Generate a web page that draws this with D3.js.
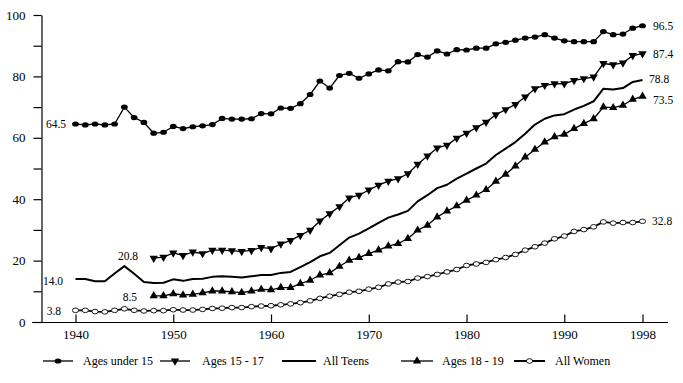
<!DOCTYPE html>
<html>
<head>
<meta charset="utf-8">
<script src="https://cdn.jsdelivr.net/npm/d3@7"></script>
<style>
  html, body { margin: 0; padding: 0; background: #fff; }
  svg { display: block; }
</style>
</head>
<body>
<svg id="chart" width="683" height="383"></svg>
<script>
// ---------- DATA ----------
const years = [1940,1941,1942,1943,1944,1945,1946,1947,1948,1949,
  1950,1951,1952,1953,1954,1955,1956,1957,1958,1959,
  1960,1961,1962,1963,1964,1965,1966,1967,1968,1969,
  1970,1971,1972,1973,1974,1975,1976,1977,1978,1979,
  1980,1981,1982,1983,1984,1985,1986,1987,1988,1989,
  1990,1991,1992,1993,1994,1995,1996,1997,1998];
const yearsFrom1948 = years.slice(8);

const agesUnder15 = [64.5,64.2,64.5,64.2,64.5,70.0,66.6,65.0,61.5,61.8,
  63.7,63.0,63.6,63.9,64.3,66.3,66.1,66.1,66.2,67.9,
  67.8,69.7,69.6,71.1,74.1,78.5,76.2,80.3,81.0,79.4,
  80.8,82.1,81.8,84.8,84.7,87.1,86.3,88.3,87.3,88.7,
  88.6,89.2,89.2,90.6,91.1,91.8,92.5,92.8,93.6,92.5,
  91.6,91.3,91.3,91.3,94.6,93.6,93.8,95.7,96.5];

const ages15to17 = [20.8,21.1,
  22.5,21.7,22.8,22.3,23.4,23.4,23.2,23.0,23.3,24.3,
  23.9,25.4,26.6,28.2,29.9,32.9,35.3,37.6,40.4,41.3,
  43.0,44.6,45.9,46.7,48.3,51.4,54.1,56.7,57.6,59.9,
  61.5,63.3,65.1,67.5,69.2,70.9,73.3,76.0,77.1,77.6,
  77.6,78.7,79.3,79.8,84.2,83.8,84.4,86.8,87.4];

const allTeens = [14.0,14.0,13.3,13.3,15.8,18.2,15.7,13.0,12.7,12.8,
  13.9,13.4,14.0,14.1,14.7,14.9,14.7,14.5,14.9,15.3,
  15.3,16.0,16.3,17.9,19.5,21.4,22.5,25.0,27.5,28.8,
  30.5,32.3,34.0,35.0,36.2,39.3,41.3,43.6,44.7,46.7,
  48.3,50.0,51.6,54.4,56.5,58.6,61.3,64.3,66.2,67.3,
  67.7,69.2,70.4,71.9,76.0,75.7,76.2,78.2,78.8];

const ages18to19 = [8.5,8.5,
  9.2,8.8,9.0,9.5,10.1,10.1,9.8,9.6,10.1,10.6,
  10.5,11.2,11.2,12.5,13.6,15.3,16.0,18.1,20.1,21.0,
  22.3,23.4,24.7,25.5,27.2,29.9,31.5,34.2,36.1,37.8,
  39.6,41.3,43.1,45.8,48.1,50.8,53.7,56.2,58.6,60.3,
  61.1,63.0,64.6,66.2,70.0,69.8,70.6,72.5,73.5];

const allWomen = [3.8,3.8,3.4,3.3,3.8,4.3,3.8,3.6,3.7,3.7,
  4.0,3.9,3.9,4.1,4.4,4.5,4.7,4.7,5.0,5.2,
  5.3,5.6,5.9,6.3,6.9,7.7,8.4,9.0,9.7,10.0,
  10.7,11.3,12.4,13.0,13.2,14.3,14.8,15.5,16.3,17.1,
  18.4,18.9,19.4,20.3,21.0,22.0,23.4,24.5,25.7,27.1,
  28.0,29.5,30.1,31.0,32.6,32.2,32.4,32.4,32.8];

const xTickValues = [1940,1950,1960,1970,1980,1990,1998];
const yTickValues = [0,10,20,30,40,50,60,70,80,90,100];
const yLabelValues = [0,20,40,60,80,100];

const seriesNames = ["Ages under 15","Ages 15 - 17","All Teens","Ages 18 - 19","All Women"];
const seriesMarkers = ["dot","down","none","up","open"];

const FONT = "'Liberation Serif', 'Times New Roman', Times, serif";

// ---------- SCALES ----------
const svg = d3.select("#chart");
const x = d3.scaleLinear().domain([1940,1998]).range([75.5,642.5]);
const y = d3.scaleLinear().domain([0,100]).range([322,15]);

// ---------- AXES ----------
const yAxis = d3.axisLeft(y).tickValues(yTickValues).tickSize(8).tickSizeOuter(0)
  .tickPadding(8)
  .tickFormat(d => yLabelValues.includes(d) ? d : "");
const gy = svg.append("g").attr("transform","translate(41.5,0)").call(yAxis);
gy.attr("font-family", FONT);
gy.selectAll("text").style("font-family", FONT).style("font-size","13px").attr("fill","#000");
gy.selectAll("line,path").attr("stroke","#000").attr("stroke-width",1.2);

svg.append("line").attr("x1",32).attr("x2",668).attr("y1",322.5).attr("y2",322.5)
  .attr("stroke","#000").attr("stroke-width",1.2);
const xAxis = d3.axisBottom(x).tickValues(xTickValues).tickSize(-8).tickPadding(7)
  .tickFormat(d3.format("d"));
const gx = svg.append("g").attr("transform","translate(0,322.5)").call(xAxis);
gx.attr("font-family", FONT);
gx.select(".domain").remove();
gx.selectAll("line").attr("stroke","#000").attr("stroke-width",1.2);
gx.selectAll("text").style("font-family", FONT).style("font-size","13px").attr("fill","#000");

// ---------- LINES ----------
const line = d3.line().x(d => x(d[0])).y(d => y(d[1]));
const zip = (xs, vs) => xs.map((yr,i) => [yr, vs[i]]);

const series = [
  {data: zip(years, agesUnder15), marker: "dot", width: 1.3},
  {data: zip(yearsFrom1948, ages15to17), marker: "down", width: 1.3},
  {data: zip(years, allTeens), marker: "none", width: 2},
  {data: zip(yearsFrom1948, ages18to19), marker: "up", width: 1.3},
  {data: zip(years, allWomen), marker: "open", width: 1.8}
];

const triUp = d3.symbol().type(d3.symbolTriangle).size(30)();

function drawMarker(g, kind, cx, cy) {
  if (kind === "dot") {
    g.append("ellipse").attr("cx",cx).attr("cy",cy).attr("rx",3.4).attr("ry",2.6).attr("fill","#000");
  } else if (kind === "open") {
    g.append("ellipse").attr("cx",cx).attr("cy",cy).attr("rx",3.1).attr("ry",2.3)
      .attr("fill","#fff").attr("stroke","#000").attr("stroke-width",0.9);
  } else if (kind === "up") {
    g.append("path").attr("d",triUp).attr("transform",`translate(${cx},${cy})`).attr("fill","#000");
  } else if (kind === "down") {
    g.append("path").attr("d",triUp).attr("transform",`translate(${cx},${cy}) rotate(180)`).attr("fill","#000");
  }
}

series.forEach(s => {
  const g = svg.append("g");
  g.append("path").attr("d", line(s.data)).attr("fill","none")
    .attr("stroke","#000").attr("stroke-width", s.width).attr("stroke-linejoin","round");
  s.data.forEach(d => drawMarker(g, s.marker, x(d[0]), y(d[1])));
});

// ---------- VALUE LABELS ----------
const startLabels = [
  {v: agesUnder15[0], t: "64.5", xr: 66},
  {v: ages15to17[0], t: "20.8", xr: 138, dy: -2},
  {v: allTeens[0], t: "14.0", xr: 63, dy: 2},
  {v: ages18to19[0], t: "8.5", xr: 137, dy: 1},
  {v: allWomen[0], t: "3.8", xr: 61, dy: 1}
];
startLabels.forEach(l => {
  svg.append("text").attr("x", l.xr).attr("y", y(l.v) + (l.dy||0)).attr("dy","0.35em")
    .attr("text-anchor","end").style("font-family", FONT).style("font-size","11.5px").text(l.t);
});
const endLabels = [
  {v: agesUnder15[agesUnder15.length-1], t: "96.5", xl: 653},
  {v: ages15to17[ages15to17.length-1], t: "87.4", xl: 653},
  {v: allTeens[allTeens.length-1], t: "78.8", xl: 649, dy: -1},
  {v: ages18to19[ages18to19.length-1], t: "73.5", xl: 653, dy: 4},
  {v: allWomen[allWomen.length-1], t: "32.8", xl: 652}
];
endLabels.forEach(l => {
  svg.append("text").attr("x", l.xl).attr("y", y(l.v) + (l.dy||0)).attr("dy","0.35em")
    .attr("text-anchor","start").style("font-family", FONT).style("font-size","11.5px").text(l.t);
});

// ---------- LEGEND ----------
const legendX = [[43,73,83],[160,190,202],[282,316,323],[401,433,442],[514,545,555]];
const legendY = 361;
seriesNames.forEach((name,i) => {
  const [x1,x2,tx] = legendX[i];
  const g = svg.append("g");
  g.append("line").attr("x1",x1).attr("x2",x2).attr("y1",legendY).attr("y2",legendY)
    .attr("stroke","#000").attr("stroke-width", seriesMarkers[i]==="none" ? 2.2 : (seriesMarkers[i]==="open" ? 2 : 1.3));
  drawMarker(g, seriesMarkers[i], (x1+x2)/2, legendY);
  g.append("text").attr("x",tx).attr("y",legendY).attr("dy","0.35em")
    .style("font-family", FONT).style("font-size","12px").text(name);
});
</script>
</body>
</html>
